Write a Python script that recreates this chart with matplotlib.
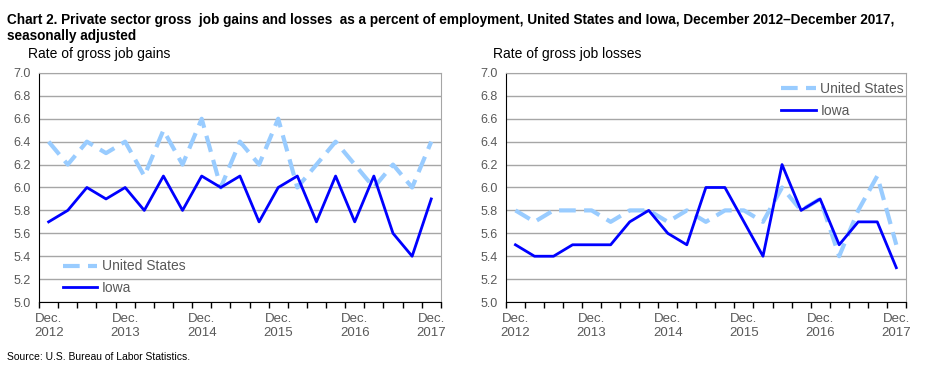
import matplotlib.pyplot as plt

plt.rcParams['font.family'] = ['Liberation Sans', 'DejaVu Sans']

quarters = list(range(21))
tick_labels = ['Dec.\n2012', 'Dec.\n2013', 'Dec.\n2014', 'Dec.\n2015', 'Dec.\n2016', 'Dec.\n2017']

gains_us = [6.4, 6.2, 6.4, 6.3, 6.4, 6.1, 6.5, 6.2, 6.6, 6.0, 6.4,
            6.2, 6.6, 6.0, 6.2, 6.4, 6.2, 6.0, 6.2, 6.0, 6.4]
gains_ia = [5.7, 5.8, 6.0, 5.9, 6.0, 5.8, 6.1, 5.8, 6.1, 6.0, 6.1,
            5.7, 6.0, 6.1, 5.7, 6.1, 5.7, 6.1, 5.6, 5.4, 5.9]
losses_us = [5.8, 5.7, 5.8, 5.8, 5.8, 5.7, 5.8, 5.8, 5.7, 5.8, 5.7,
             5.8, 5.8, 5.7, 6.0, 5.8, 5.9, 5.4, 5.8, 6.1, 5.5]
losses_ia = [5.5, 5.4, 5.4, 5.5, 5.5, 5.5, 5.7, 5.8, 5.6, 5.5, 6.0,
             6.0, 5.7, 5.4, 6.2, 5.8, 5.9, 5.5, 5.7, 5.7, 5.3]

US_COLOR = '#99CCFF'
IA_COLOR = '#0000FF'
TXT = '#595959'

fig = plt.figure(figsize=(9.3, 3.72), dpi=100)


def draw_panel(ax, us, ia, legend_anchor):
    ax.plot(quarters, us, color=US_COLOR, lw=3, dashes=(4, 2), label='United States', zorder=3)
    ax.plot(quarters, ia, color=IA_COLOR, lw=2, label='Iowa', zorder=4)
    ax.set_xlim(-0.5, 20.5)
    ax.set_ylim(5.0, 7.0)
    ax.set_yticks([5.0 + 0.2 * i for i in range(11)])
    ax.set_yticklabels([f'{5.0 + 0.2 * i:.1f}' for i in range(11)], fontsize=9, color=TXT)
    ax.yaxis.grid(True, color='#A6A6A6', lw=1)
    ax.set_axisbelow(True)
    ax.tick_params(axis='y', length=0, pad=6)
    # tick marks on category boundaries, labels on the points
    ax.set_xticks([q - 0.5 for q in range(22)])
    ax.set_xticklabels([])
    ax.tick_params(axis='x', which='major', length=4, width=1, direction='out', color='black')
    ax.set_xticks(quarters[::4], minor=True)
    ax.set_xticklabels(tick_labels, minor=True)
    ax.tick_params(axis='x', which='minor', length=0, pad=8, labelsize=9.5, labelcolor=TXT)
    for side in ['top', 'right']:
        ax.spines[side].set_color('#A6A6A6')
    for side in ['left', 'bottom']:
        ax.spines[side].set_color('black')
    leg = ax.legend(loc='upper left', bbox_to_anchor=legend_anchor, frameon=False,
                    handlelength=2.5, handletextpad=0.3, labelspacing=0.55,
                    fontsize=10, borderaxespad=0)
    for t in leg.get_texts():
        t.set_color(TXT)


ax1 = fig.add_axes([0.042, 0.188, 0.432, 0.616])
draw_panel(ax1, gains_us, gains_ia, (0.045, 0.21))
ax2 = fig.add_axes([0.544, 0.188, 0.430, 0.616])
draw_panel(ax2, losses_us, losses_ia, (0.675, 0.985))

fig.text(0.008, 0.965, 'Chart 2. Private sector gross  job gains and losses  as a percent of employment, United States and Iowa, December 2012\u2013December 2017,\nseasonally adjusted',
         fontsize=9.8, fontweight='bold', va='top', ha='left', linespacing=1.2)
fig.text(0.030, 0.855, 'Rate of gross job gains', fontsize=10, va='center')
fig.text(0.530, 0.855, 'Rate of gross job losses', fontsize=10, va='center')
fig.text(0.008, 0.04, 'Source: U.S. Bureau of Labor Statistics.', fontsize=7.5, va='center')

fig.savefig('out.png', dpi=100)
